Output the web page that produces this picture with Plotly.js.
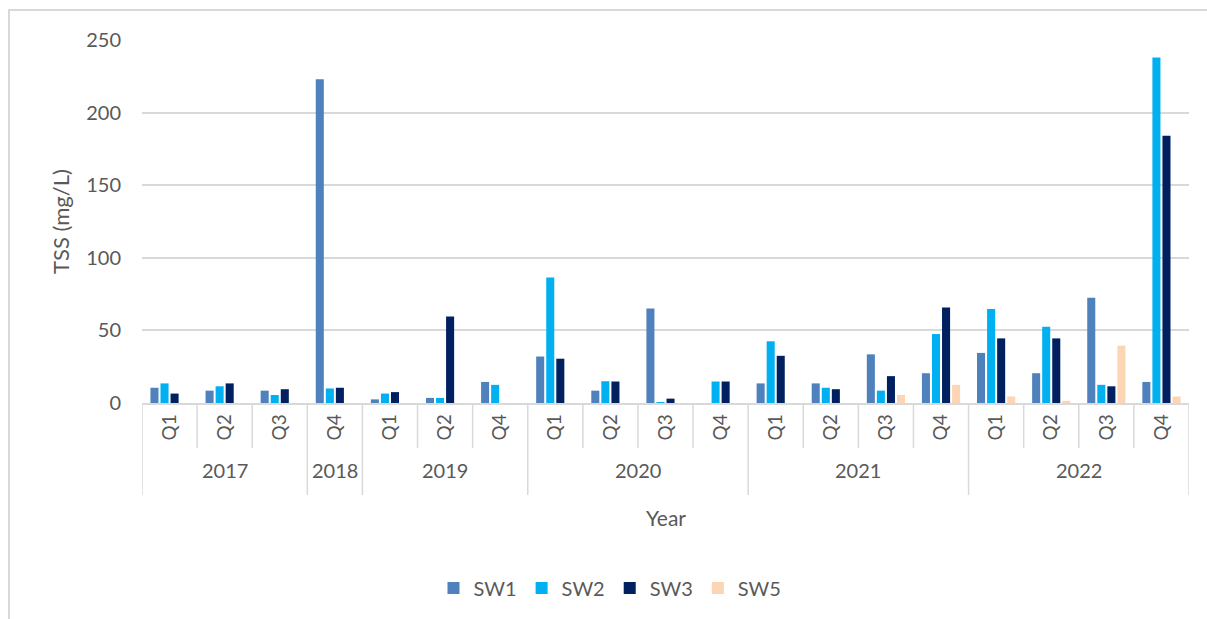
<!DOCTYPE html>
<html>
<head>
<meta charset="utf-8">
<script src="https://cdn.plot.ly/plotly-3.0.1.min.js"></script>
<style>
  html, body { margin: 0; padding: 0; background: #ffffff; overflow: hidden; }
  #frame { position: absolute; left: 8px; top: 9px; width: 1300px; height: 700px;
           border-left: 2px solid #d9d9d9; border-top: 2px solid #d9d9d9; }
  #chart { position: absolute; left: 0; top: 0; width: 1207px; height: 619px; }
</style>
</head>
<body>
<div id="frame"></div>
<div id="chart"></div>
<script>
// sampling periods (year / quarter), one entry per category on the x axis
const years = ["2017", "2017", "2017", "2018", "2019", "2019", "2019", "2020", "2020", "2020",
  "2020", "2021", "2021", "2021", "2021", "2022", "2022", "2022", "2022"];
const quarters = ["Q1", "Q2", "Q3", "Q4", "Q1", "Q2", "Q4", "Q1", "Q2", "Q3",
  "Q4", "Q1", "Q2", "Q3", "Q4", "Q1", "Q2", "Q3", "Q4"];

// TSS (mg/L) per site
const sw1 = [10.5, 8.5, 8.5, 223, 2.5, 3.5, 14.5, 32, 8.5, 65, null, 13.5, 13.5, 33.5, 20.5, 34.5, 20.5, 72.5, 14.5];
const sw2 = [13.5, 11.5, 5.5, 10, 6.5, 3.5, 12.5, 86.5, 15, 0.5, 14.8, 42.5, 10.5, 8.5, 47.5, 64.8, 52.5, 12.5, 238];
const sw3 = [6.5, 13.5, 9.5, 10.5, 7.5, 59.5, null, 30.5, 14.8, 3, 14.8, 32.5, 9.5, 18.5, 65.7, 44.5, 44.5, 11.5, 184];
const sw5 = [null, null, null, null, null, null, null, null, null, null, null, null, null, 5.5, 12.5, 4.5, 1.5, 39.5, 4.5];

const seriesNames = ["SW1", "SW2", "SW3", "SW5"];
const seriesValues = [sw1, sw2, sw3, sw5];
const seriesColors = ["#4f81bd", "#00b0f0", "#002060", "#fcd5b5"];

const idx = quarters.map((q, i) => i);
const fontFamily = "Lato, 'Open Sans', sans-serif";
const textColor = "#595959";
const lineColor = "#d9d9d9";

const traces = seriesNames.map((name, s) => ({
  type: "bar",
  name: name,
  x: idx,
  y: seriesValues[s],
  marker: {
    color: seriesColors[s],
    line: { width: 0 }
  },
  hoverinfo: "name+y"
}));

// plot area is 363 px tall; divider lengths below the axis in paper units
const plotHeight = 363;
const quarterDrop = 45 / plotHeight;
const yearDrop = 92 / plotHeight;

// year groups from the years array
const groups = [];
years.forEach((y, i) => {
  if (groups.length === 0 || groups[groups.length - 1].year !== y) {
    groups.push({ year: y, start: i, end: i });
  } else {
    groups[groups.length - 1].end = i;
  }
});

const shapes = [];
for (let i = 0; i <= years.length; i++) {
  const isYearEdge = i === 0 || i === years.length || years[i] !== years[i - 1];
  shapes.push({
    type: "line",
    xref: "x",
    yref: "paper",
    x0: i - 0.5,
    x1: i - 0.5,
    y0: 0,
    y1: -(isYearEdge ? yearDrop : quarterDrop),
    line: { color: lineColor, width: 1.5 }
  });
}

const annotations = groups.map(g => ({
  xref: "x",
  yref: "paper",
  x: (g.start + g.end) / 2,
  y: -67 / plotHeight,
  text: g.year,
  showarrow: false,
  xanchor: "center",
  yanchor: "middle",
  font: { family: fontFamily, size: 20, color: textColor }
}));

// x axis title, sits below the year row
annotations.push({
  xref: "paper",
  yref: "paper",
  x: 0.5,
  y: -114 / plotHeight,
  text: "Year",
  showarrow: false,
  xanchor: "center",
  yanchor: "middle",
  font: { family: fontFamily, size: 21, color: textColor }
});

const layout = {
  width: 1207,
  height: 619,
  paper_bgcolor: "rgba(0,0,0,0)",
  plot_bgcolor: "rgba(0,0,0,0)",
  margin: { l: 142, r: 18, t: 40, b: 216 },
  barmode: "group",
  bargap: 0.27,
  bargroupgap: 0.2,
  font: { family: fontFamily, color: textColor },
  xaxis: {
    type: "linear",
    range: [-0.5, years.length - 0.5],
    tickmode: "array",
    tickvals: idx,
    ticktext: quarters,
    tickangle: -90,
    ticks: "",
    ticklabelstandoff: 2,
    tickfont: { family: fontFamily, size: 19, color: textColor },
    showgrid: false,
    zeroline: false,
    showline: true,
    linecolor: lineColor,
    linewidth: 1.5,
    fixedrange: true
  },
  yaxis: {
    range: [0, 250],
    dtick: 50,
    showgrid: true,
    gridcolor: lineColor,
    gridwidth: 1.5,
    zeroline: false,
    showline: false,
    ticks: "",
    ticklabelstandoff: 20,
    tickfont: { family: fontFamily, size: 20, color: textColor },
    fixedrange: true,
    title: {
      text: "TSS (mg/L)",
      standoff: 10,
      font: { family: fontFamily, size: 22, color: textColor }
    }
  },
  showlegend: true,
  legend: {
    orientation: "h",
    x: (610 - 142) / 1047,
    xanchor: "center",
    y: -185 / plotHeight,
    yanchor: "middle",
    font: { family: fontFamily, size: 20, color: textColor },
    itemwidth: 30,
    traceorder: "normal"
  },
  shapes: shapes,
  annotations: annotations
};

Plotly.newPlot("chart", traces, layout, { displayModeBar: false, responsive: false });
</script>
</body>
</html>
